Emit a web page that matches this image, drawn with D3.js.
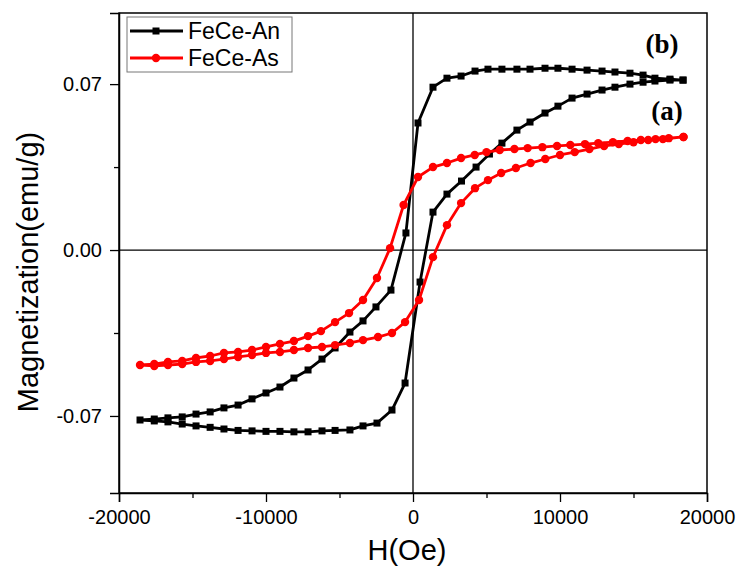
<!DOCTYPE html>
<html>
<head>
<meta charset="utf-8">
<script src="https://cdn.jsdelivr.net/npm/d3@7"></script>
<style>
  body { margin: 0; background: #fff; }
  text { font-family: "Liberation Sans", Arial, sans-serif; fill: #000; }
</style>
</head>
<body>
<div id="chart"></div>
<script>
// FeCe-An loop: descending branch then ascending branch (H in Oe, M in emu/g)
var anH = [18370, 17480, 16460, 15650, 14760, 13740, 12860, 11840, 10820, 9860,
  8980, 7960, 7070, 6050, 5100, 4220, 3270, 2310, 1360, 340,
  -480, -1500, -2520, -3400, -4290, -5300, -6190, -7140, -8100, -9050,
  -10000, -10950, -11900, -12860, -13800, -14760, -15700, -16670, -17600, -18570,
  -17600, -16670, -15700, -14760, -13800, -12860, -11900, -10950, -10000, -9050,
  -8100, -7140, -6190, -5300, -4290, -3400, -2450, -1430, -540, 480,
  1360, 2310, 3300, 4290, 5200, 6050, 7070, 7960, 8980, 9860,
  10820, 11840, 12860, 13740, 14760, 15650, 16460, 17480, 18370];
var anM = [0.0717, 0.0721, 0.0725, 0.0738, 0.0746, 0.0751, 0.0755, 0.0759, 0.0763, 0.0767,
  0.0767, 0.0763, 0.0763, 0.0763, 0.0763, 0.0755, 0.0734, 0.0725, 0.0687, 0.0536,
  0.0072, -0.0169, -0.0240, -0.0299, -0.0346, -0.0413, -0.0460, -0.0506, -0.0540, -0.0578,
  -0.0603, -0.0628, -0.0654, -0.0666, -0.0683, -0.0692, -0.0704, -0.0708, -0.0713, -0.0717,
  -0.0721, -0.0725, -0.0734, -0.0742, -0.0748, -0.0755, -0.0761, -0.0763, -0.0765, -0.0765,
  -0.0767, -0.0767, -0.0763, -0.0761, -0.0759, -0.0742, -0.0730, -0.0675, -0.0561, -0.0135,
  0.0160, 0.0236, 0.0291, 0.0350, 0.0405, 0.0451, 0.0506, 0.0540, 0.0578, 0.0607,
  0.0641, 0.0658, 0.0675, 0.0687, 0.0700, 0.0708, 0.0713, 0.0717, 0.0717];

// FeCe-As loop
var asH = [18400, 17400, 16500, 15500, 14600, 13600, 12600, 11700, 10700, 9800,
  8800, 7800, 6900, 5900, 5000, 4200, 3270, 2310, 1360, 340,
  -640, -1560, -2450, -3400, -4350, -5300, -6260, -7140, -8100, -9050,
  -10000, -10950, -11900, -12860, -13800, -14760, -15700, -16670, -17600, -18570,
  -17600, -16670, -15700, -14760, -13800, -12860, -11900, -10950, -10000, -9050,
  -8100, -7140, -6190, -5300, -4290, -3400, -2380, -1430, -540, 410,
  1360, 2310, 3270, 4220, 5100, 6000, 7000, 8000, 9000, 10000,
  11000, 12000, 13000, 14000, 15000, 16000, 17000, 18400];
var asM = [0.0477, 0.0472, 0.0468, 0.0464, 0.0460, 0.0455, 0.0451, 0.0447, 0.0443, 0.0439,
  0.0434, 0.0430, 0.0426, 0.0422, 0.0413, 0.0401, 0.0388, 0.0367, 0.0350, 0.0308,
  0.0190, 0.0008, -0.0118, -0.0211, -0.0266, -0.0304, -0.0342, -0.0363, -0.0384, -0.0396,
  -0.0409, -0.0422, -0.0430, -0.0434, -0.0447, -0.0455, -0.0468, -0.0472, -0.0481, -0.0485,
  -0.0489, -0.0485, -0.0481, -0.0472, -0.0468, -0.0460, -0.0451, -0.0443, -0.0434, -0.0430,
  -0.0422, -0.0413, -0.0409, -0.0401, -0.0392, -0.0380, -0.0367, -0.0350, -0.0304, -0.0211,
  -0.0030, 0.0105, 0.0198, 0.0261, 0.0295, 0.0325, 0.0346, 0.0367, 0.0384, 0.0401,
  0.0413, 0.0426, 0.0439, 0.0447, 0.0455, 0.0464, 0.0468, 0.0477];

var xTicks = [-20000, -10000, 0, 10000, 20000];
var xMinor = [-15000, -5000, 5000, 15000];
var yTicks = [-0.07, 0, 0.07];
var yMinor = [-0.035, 0.035];
var yTickLabels = ["-0.07", "0.00", "0.07"];
var seriesNames = ["FeCe-An", "FeCe-As"];
var seriesColors = ["#000000", "#ff0000"];

// set the dimensions and margins of the graph
var margin = {top: 13, right: 34, bottom: 81, left: 119},
  width = 741 - margin.left - margin.right,
  height = 574 - margin.top - margin.bottom;

var svg = d3.select("#chart")
  .append("svg")
  .attr("width", 741)
  .attr("height", 574)
  .append("g")
  .attr("transform", "translate(" + margin.left + "," + margin.top + ")");

var x = d3.scaleLinear().domain([-20000, 20000]).range([0, width]);
var y = d3.scaleLinear().domain([-0.1025, 0.1]).range([height, 0]);

// zero lines
svg.append("line").attr("x1", x(0)).attr("x2", x(0)).attr("y1", 0).attr("y2", height)
  .attr("stroke", "#000").attr("stroke-width", 1.3);
svg.append("line").attr("x1", 0).attr("x2", width).attr("y1", y(0)).attr("y2", y(0))
  .attr("stroke", "#000").attr("stroke-width", 1.3);

// bottom axis
var xAxis = svg.append("g")
  .attr("transform", "translate(0," + height + ")")
  .call(d3.axisBottom(x).tickValues(xTicks).tickSize(9).tickPadding(8).tickFormat(d3.format("d")));
xAxis.selectAll("text").style("font-size", "20px").attr("dy", "0.72em")
  .text(function(d) { return d < 0 ? "-" + Math.abs(d) : d; });
svg.append("g")
  .attr("transform", "translate(0," + height + ")")
  .call(d3.axisBottom(x).tickValues(xMinor).tickSize(5).tickFormat(""))
  .select(".domain").remove();

// left axis
var yAxis = svg.append("g")
  .call(d3.axisLeft(y).tickValues(yTicks).tickSize(9).tickPadding(8)
    .tickFormat(function(d, i) { return yTickLabels[i]; }));
yAxis.selectAll("text").style("font-size", "20px");
svg.append("g")
  .call(d3.axisLeft(y).tickValues(yMinor).tickSize(5).tickFormat(""))
  .select(".domain").remove();

svg.selectAll(".domain").attr("stroke-width", 1.5);
svg.selectAll(".tick line").attr("stroke-width", 1.3);

// frame
svg.append("rect").attr("x", 0).attr("y", 0).attr("width", width).attr("height", height)
  .attr("fill", "none").attr("stroke", "#000").attr("stroke-width", 1.5);

// axis titles
svg.append("text")
  .attr("x", width / 2 - 6).attr("y", height + 57)
  .attr("text-anchor", "middle").attr("dominant-baseline", "central")
  .style("font-size", "29px").text("H(Oe)");
svg.append("text")
  .attr("transform", "translate(" + (-91) + "," + (y(0) + 22) + ") rotate(-90)")
  .attr("text-anchor", "middle").attr("dominant-baseline", "central")
  .style("font-size", "29px").text("Magnetization(emu/g)");

var line = d3.line()
  .x(function(d) { return x(d[0]); })
  .y(function(d) { return y(d[1]); });

var an = d3.zip(anH, anM);
var as = d3.zip(asH, asM);

// FeCe-An
svg.append("path").datum(an).attr("d", line)
  .attr("fill", "none").attr("stroke", seriesColors[0]).attr("stroke-width", 2.8)
  .attr("stroke-linejoin", "round");
svg.selectAll(".sq").data(an).enter().append("rect")
  .attr("x", function(d) { return x(d[0]) - 3.5; })
  .attr("y", function(d) { return y(d[1]) - 3.5; })
  .attr("width", 7).attr("height", 7).attr("fill", seriesColors[0]);

// FeCe-As
svg.append("path").datum(as).attr("d", line)
  .attr("fill", "none").attr("stroke", seriesColors[1]).attr("stroke-width", 2.8)
  .attr("stroke-linejoin", "round");
svg.selectAll(".dot").data(as).enter().append("circle")
  .attr("cx", function(d) { return x(d[0]); })
  .attr("cy", function(d) { return y(d[1]); })
  .attr("r", 4.2).attr("fill", seriesColors[1]);

// Handmade legend
svg.append("rect").attr("x", 8).attr("y", 4).attr("width", 165).attr("height", 55)
  .attr("fill", "#fff").attr("stroke", "#777").attr("stroke-width", 1);
seriesNames.forEach(function(name, i) {
  var ly = 18 + i * 27;
  svg.append("line").attr("x1", 11).attr("x2", 64).attr("y1", ly).attr("y2", ly)
    .attr("stroke", seriesColors[i]).attr("stroke-width", 3);
  if (i == 0) {
    svg.append("rect").attr("x", 33.5).attr("y", ly - 3.5).attr("width", 7).attr("height", 7)
      .attr("fill", seriesColors[i]);
  } else {
    svg.append("circle").attr("cx", 37).attr("cy", ly).attr("r", 4.2).attr("fill", seriesColors[i]);
  }
  svg.append("text").attr("x", 69).attr("y", ly).attr("dominant-baseline", "central")
    .style("font-size", "23px").text(name);
});

// sample labels
svg.append("text").attr("x", 543).attr("y", 31).attr("text-anchor", "middle")
  .attr("dominant-baseline", "central")
  .style("font-family", "'Liberation Serif', 'Times New Roman', serif")
  .style("font-weight", "bold").style("font-size", "27px").text("(b)");
svg.append("text").attr("x", 548).attr("y", 98).attr("text-anchor", "middle")
  .attr("dominant-baseline", "central")
  .style("font-family", "'Liberation Serif', 'Times New Roman', serif")
  .style("font-weight", "bold").style("font-size", "27px").text("(a)");
</script>
</body>
</html>
